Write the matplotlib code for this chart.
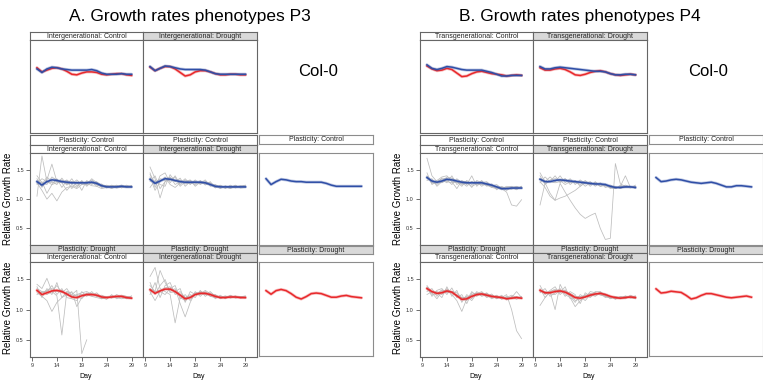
import matplotlib
matplotlib.use('Agg')
import matplotlib.pyplot as plt

plt.rcParams['font.family'] = ['Liberation Sans', 'DejaVu Sans']

# Data: relative growth rate per day (days 10..29)
days = list(range(10, 30))
x_ticks = [9, 14, 19, 24, 29]
y_ticks = [0.5, 1.0, 1.5]

# ---- A. P3 (intergenerational) ----
a_ic_ctrl = [1.30, 1.24, 1.30, 1.33, 1.32, 1.30, 1.29, 1.28, 1.28, 1.28, 1.28, 1.29, 1.27, 1.23, 1.21, 1.21, 1.21, 1.22, 1.21, 1.21]
a_id_ctrl = [1.34, 1.27, 1.31, 1.35, 1.34, 1.32, 1.30, 1.29, 1.29, 1.29, 1.29, 1.28, 1.25, 1.22, 1.21, 1.21, 1.21, 1.21, 1.21, 1.21]
a_ic_drt = [1.32, 1.25, 1.28, 1.31, 1.32, 1.30, 1.26, 1.21, 1.20, 1.23, 1.25, 1.25, 1.24, 1.21, 1.20, 1.21, 1.22, 1.22, 1.20, 1.19]
a_id_drt = [1.33, 1.27, 1.31, 1.34, 1.34, 1.30, 1.24, 1.18, 1.20, 1.25, 1.27, 1.27, 1.25, 1.22, 1.20, 1.20, 1.21, 1.21, 1.20, 1.20]
a_col_ctrl = [1.35, 1.25, 1.30, 1.34, 1.33, 1.31, 1.30, 1.30, 1.29, 1.29, 1.29, 1.29, 1.27, 1.24, 1.22, 1.22, 1.22, 1.22, 1.22, 1.22]
a_col_drt = [1.31, 1.25, 1.31, 1.33, 1.31, 1.26, 1.20, 1.17, 1.21, 1.26, 1.27, 1.26, 1.23, 1.20, 1.20, 1.22, 1.23, 1.21, 1.20, 1.19]

# individual plants (grey)
a_ic_ctrl_ind = [
    [1.05, 1.74, 1.30, 1.25, 1.28, 1.30, 1.27, 1.30, 1.28, 1.27, 1.30, 1.28, 1.25, 1.22, 1.20, 1.22, 1.20, 1.21, 1.22, 1.20],
    [1.28, 1.15, 1.00, 1.10, 0.97, 1.12, 1.20, 1.22, 1.18, 1.25, 1.27, 1.23, 1.22, 1.18, 1.20, 1.22, 1.19, 1.21, 1.20, 1.22],
    [1.35, 1.20, 1.33, 1.60, 1.30, 1.28, 1.15, 1.25, 1.20, 1.30, 1.25, 1.35, 1.28, 1.24, 1.22, 1.18, 1.22, 1.24, 1.21, 1.23],
    [1.25, 1.30, 1.10, 1.25, 1.35, 1.20, 1.32, 1.18, 1.30, 1.15, 1.32, 1.25, 1.30, 1.20, 1.23, 1.20, 1.24, 1.19, 1.23, 1.21],
    [1.32, 1.25, 1.38, 1.30, 1.25, 1.36, 1.25, 1.35, 1.22, 1.32, 1.22, 1.30, 1.22, 1.26, 1.19, 1.24, 1.21, 1.23, 1.20, 1.22],
    [1.40, 1.28, 1.25, 1.38, 1.32, 1.28, 1.33, 1.26, 1.33, 1.25, 1.27, 1.33, 1.25, 1.21, 1.24, 1.21, 1.23, 1.20, 1.24, 1.20],
    [1.27, 1.35, 1.30, 1.28, 1.30, 1.33, 1.24, 1.30, 1.26, 1.30, 1.24, 1.27, 1.29, 1.24, 1.22, 1.23, 1.22, 1.20, 1.22, 1.23],
]
a_id_ctrl_ind = [
    [1.55, 1.35, 1.02, 1.30, 1.38, 1.25, 1.30, 1.28, 1.32, 1.27, 1.30, 1.26, 1.24, 1.20, 1.22, 1.20, 1.22, 1.21, 1.23, 1.21],
    [1.45, 1.20, 1.40, 1.45, 1.28, 1.40, 1.25, 1.33, 1.25, 1.33, 1.25, 1.30, 1.27, 1.23, 1.18, 1.23, 1.19, 1.23, 1.20, 1.22],
    [1.20, 1.32, 1.25, 1.22, 1.42, 1.30, 1.36, 1.22, 1.30, 1.24, 1.32, 1.24, 1.30, 1.19, 1.24, 1.18, 1.24, 1.19, 1.22, 1.24],
    [1.38, 1.15, 1.30, 1.38, 1.25, 1.20, 1.28, 1.35, 1.26, 1.30, 1.27, 1.33, 1.22, 1.25, 1.20, 1.22, 1.20, 1.24, 1.19, 1.20],
    [1.30, 1.40, 1.18, 1.30, 1.33, 1.38, 1.22, 1.30, 1.33, 1.22, 1.29, 1.27, 1.28, 1.22, 1.23, 1.21, 1.18, 1.22, 1.21, 1.23],
    [1.42, 1.28, 1.35, 1.32, 1.36, 1.30, 1.33, 1.26, 1.28, 1.30, 1.26, 1.29, 1.25, 1.21, 1.21, 1.22, 1.21, 1.20, 1.22, 1.20],
]
a_ic_drt_ind = [
    [1.28, 1.22, 1.15, 0.97, 1.12, 1.20, 1.25, 1.30, 1.05, 1.20, 1.25, 1.22, 1.20, 1.18, 1.20, 1.22, 1.20, 1.18, 1.20, 1.18],
    [1.35, 1.30, 1.25, 1.30, 1.23, 0.58, 1.30, 1.25, 1.32, 0.27, 0.50],
    [1.42, 1.35, 1.52, 1.30, 1.40, 1.28, 1.35, 1.22, 1.25, 1.28, 1.30, 1.26, 1.24, 1.18, 1.22, 1.19, 1.25, 1.21, 1.19, 1.20],
    [1.25, 1.30, 1.30, 1.40, 1.25, 1.35, 1.20, 1.18, 1.15, 1.30, 1.22, 1.30, 1.22, 1.24, 1.20, 1.23, 1.21, 1.24, 1.22, 1.21],
    [1.38, 1.20, 1.35, 1.25, 1.45, 1.20, 1.30, 1.28, 1.22, 1.18, 1.28, 1.24, 1.28, 1.20, 1.17, 1.25, 1.18, 1.22, 1.18, 1.23],
    [1.30, 1.28, 1.32, 1.35, 1.30, 1.32, 1.24, 1.22, 1.24, 1.25, 1.26, 1.27, 1.22, 1.22, 1.21, 1.20, 1.22, 1.21, 1.21, 1.20],
]
a_id_drt_ind = [
    [1.55, 1.70, 1.35, 1.30, 1.25, 0.78, 1.20, 1.15, 1.22, 1.25, 1.30, 1.28, 1.22, 1.20, 1.22, 1.20, 1.21, 1.20, 1.22, 1.20],
    [1.40, 1.30, 1.65, 1.45, 1.30, 1.35, 1.10, 0.88, 1.12, 1.28, 1.25, 1.32, 1.26, 1.24, 1.18, 1.22, 1.20, 1.23, 1.19, 1.21],
    [1.25, 1.45, 1.20, 1.40, 1.45, 1.25, 1.30, 1.20, 1.25, 1.20, 1.32, 1.22, 1.28, 1.18, 1.24, 1.18, 1.24, 1.19, 1.21, 1.23],
    [1.30, 1.15, 1.30, 1.25, 1.35, 1.40, 1.18, 1.25, 1.15, 1.30, 1.22, 1.30, 1.22, 1.25, 1.20, 1.23, 1.19, 1.22, 1.20, 1.19],
    [1.45, 1.25, 1.40, 1.50, 1.28, 1.30, 1.35, 1.12, 1.30, 1.25, 1.28, 1.25, 1.30, 1.22, 1.21, 1.21, 1.23, 1.21, 1.22, 1.22],
    [1.35, 1.30, 1.32, 1.36, 1.38, 1.28, 1.26, 1.20, 1.22, 1.27, 1.29, 1.26, 1.25, 1.21, 1.20, 1.21, 1.21, 1.20, 1.21, 1.20],
]

# ---- B. P4 (transgenerational) ----
b_tc_ctrl = [1.37, 1.31, 1.29, 1.31, 1.34, 1.33, 1.31, 1.29, 1.28, 1.28, 1.28, 1.28, 1.26, 1.24, 1.21, 1.18, 1.18, 1.19, 1.19, 1.19]
b_td_ctrl = [1.34, 1.30, 1.30, 1.32, 1.33, 1.32, 1.31, 1.30, 1.29, 1.28, 1.27, 1.26, 1.26, 1.25, 1.22, 1.20, 1.20, 1.21, 1.21, 1.20]
b_tc_drt = [1.35, 1.30, 1.27, 1.28, 1.31, 1.29, 1.23, 1.17, 1.18, 1.22, 1.25, 1.26, 1.24, 1.22, 1.21, 1.20, 1.18, 1.19, 1.20, 1.19]
b_td_drt = [1.32, 1.28, 1.28, 1.30, 1.31, 1.29, 1.25, 1.20, 1.19, 1.21, 1.24, 1.26, 1.27, 1.25, 1.22, 1.20, 1.19, 1.20, 1.21, 1.20]
b_col_ctrl = [1.37, 1.30, 1.31, 1.33, 1.34, 1.33, 1.31, 1.29, 1.28, 1.27, 1.28, 1.29, 1.27, 1.24, 1.21, 1.21, 1.23, 1.23, 1.22, 1.21]
b_col_drt = [1.34, 1.27, 1.28, 1.30, 1.29, 1.28, 1.23, 1.17, 1.19, 1.23, 1.26, 1.26, 1.24, 1.22, 1.20, 1.19, 1.20, 1.21, 1.22, 1.20]

b_tc_ctrl_ind = [
    [1.70, 1.40, 1.30, 1.35, 1.30, 1.28, 1.30, 1.25, 1.28, 1.22, 1.26, 1.25, 1.24, 1.20, 1.18, 1.18, 1.12, 0.90, 0.88, 0.99],
    [1.40, 1.28, 1.32, 1.38, 1.40, 1.30, 1.18, 1.32, 1.25, 1.40, 1.22, 1.30, 1.25, 1.22, 1.20, 1.16, 1.20, 1.22, 1.18, 1.22],
    [1.32, 1.35, 1.22, 1.30, 1.38, 1.36, 1.30, 1.22, 1.32, 1.25, 1.30, 1.22, 1.28, 1.20, 1.22, 1.20, 1.15, 1.20, 1.22, 1.18],
    [1.45, 1.25, 1.30, 1.28, 1.33, 1.25, 1.35, 1.28, 1.22, 1.30, 1.25, 1.32, 1.22, 1.26, 1.16, 1.22, 1.18, 1.17, 1.21, 1.20],
    [1.35, 1.32, 1.25, 1.33, 1.28, 1.40, 1.25, 1.30, 1.30, 1.20, 1.32, 1.28, 1.30, 1.22, 1.25, 1.18, 1.22, 1.20, 1.16, 1.22],
    [1.38, 1.27, 1.28, 1.36, 1.35, 1.31, 1.28, 1.27, 1.26, 1.30, 1.27, 1.26, 1.27, 1.23, 1.20, 1.20, 1.19, 1.18, 1.20, 1.20],
]
b_td_ctrl_ind = [
    [0.90, 1.27, 1.30, 1.28, 1.30, 1.35, 1.28, 1.30, 1.25, 1.32, 1.25, 1.28, 1.22, 1.24, 1.20, 1.18, 1.22, 1.20, 1.22, 1.20],
    [1.35, 1.28, 1.10, 0.98, 1.27, 1.12, 0.98, 0.85, 0.74, 0.67, 0.72, 0.76, 0.50, 0.31, 0.33, 1.61, 1.26, 1.22, 1.20, 1.22],
    [1.30, 1.20, 1.05, 0.98, 1.02, 1.05, 1.10, 1.15, 1.22, 1.28, 1.25, 1.28, 1.22, 1.24, 1.20, 1.18, 1.22, 1.40, 1.20, 1.22],
    [1.45, 1.30, 1.38, 1.30, 1.40, 1.28, 1.35, 1.25, 1.33, 1.26, 1.30, 1.22, 1.28, 1.20, 1.22, 1.18, 1.24, 1.20, 1.22, 1.18],
    [1.28, 1.38, 1.30, 1.40, 1.28, 1.35, 1.25, 1.32, 1.22, 1.30, 1.22, 1.30, 1.22, 1.26, 1.18, 1.22, 1.18, 1.22, 1.19, 1.24],
    [1.40, 1.25, 1.33, 1.35, 1.32, 1.25, 1.30, 1.28, 1.30, 1.22, 1.28, 1.25, 1.26, 1.22, 1.24, 1.20, 1.20, 1.24, 1.21, 1.21],
]
b_tc_drt_ind = [
    [1.40, 1.28, 1.30, 1.25, 1.35, 1.25, 1.15, 0.97, 1.18, 1.25, 1.28, 1.22, 1.25, 1.18, 1.22, 1.20, 1.25, 1.00, 0.65, 0.52],
    [1.30, 1.35, 1.22, 1.32, 1.28, 1.30, 1.28, 1.20, 1.15, 1.30, 1.22, 1.28, 1.20, 1.24, 1.18, 1.22, 1.18, 1.20, 1.30, 1.20],
    [1.25, 1.30, 1.28, 1.20, 1.38, 1.22, 1.32, 1.12, 1.25, 1.18, 1.30, 1.24, 1.28, 1.20, 1.24, 1.17, 1.22, 1.18, 1.22, 1.18],
    [1.38, 1.22, 1.32, 1.35, 1.25, 1.36, 1.20, 1.25, 1.10, 1.28, 1.26, 1.30, 1.22, 1.26, 1.18, 1.24, 1.16, 1.22, 1.17, 1.22],
    [1.33, 1.28, 1.18, 1.30, 1.32, 1.28, 1.25, 1.18, 1.22, 1.15, 1.27, 1.24, 1.27, 1.22, 1.20, 1.19, 1.20, 1.24, 1.20, 1.21],
    [1.36, 1.25, 1.26, 1.33, 1.30, 1.30, 1.22, 1.20, 1.20, 1.24, 1.24, 1.27, 1.23, 1.21, 1.22, 1.20, 1.19, 1.20, 1.21, 1.20],
]
b_td_drt_ind = [
    [1.07, 1.20, 1.30, 1.00, 1.42, 1.25, 1.20, 1.05, 1.15, 1.22, 1.25, 1.22, 1.28, 1.20, 1.22, 1.18, 1.20, 1.22, 1.20, 1.18],
    [1.40, 1.25, 1.32, 1.38, 1.25, 1.33, 1.22, 1.12, 1.25, 1.20, 1.30, 1.28, 1.25, 1.22, 1.20, 1.21, 1.18, 1.23, 1.19, 1.22],
    [1.28, 1.35, 1.22, 1.28, 1.35, 1.22, 1.30, 1.25, 1.10, 1.28, 1.22, 1.30, 1.30, 1.24, 1.18, 1.22, 1.20, 1.18, 1.24, 1.20],
    [1.35, 1.20, 1.30, 1.32, 1.28, 1.38, 1.18, 1.20, 1.22, 1.15, 1.25, 1.24, 1.28, 1.26, 1.22, 1.17, 1.22, 1.20, 1.20, 1.23],
    [1.30, 1.30, 1.26, 1.25, 1.32, 1.28, 1.25, 1.15, 1.18, 1.25, 1.20, 1.28, 1.24, 1.22, 1.19, 1.20, 1.19, 1.21, 1.22, 1.19],
    [1.33, 1.26, 1.30, 1.34, 1.30, 1.31, 1.27, 1.22, 1.21, 1.23, 1.27, 1.25, 1.29, 1.23, 1.21, 1.19, 1.21, 1.20, 1.21, 1.21],
]

BLUE = '#2f4ea6'
RED = '#e8282b'
GREY = '#bdbdbd'
FRAME = '#666666'
LIGHT = '#8c8c8c'
SHADE = '#d9d9d9'

W, H = 763, 382
fig = plt.figure(figsize=(W / 100, H / 100), dpi=100)


def box(x0, y0, x1, y1):
    # pixel coords (top-left origin) -> figure fraction
    return [x0 / W, 1 - y1 / H, (x1 - x0) / W, (y1 - y0) / H]


def strip(x0, y0, x1, y1, label, shaded, edge=FRAME):
    ax = fig.add_axes(box(x0, y0, x1, y1))
    ax.set_facecolor(SHADE if shaded else 'white')
    ax.set_xticks([])
    ax.set_yticks([])
    for s in ax.spines.values():
        s.set_color(edge)
        s.set_linewidth(0.8)
    ax.text(0.5, 0.47, label, transform=ax.transAxes, ha='center', va='center',
            fontsize=5.0, color='#222222')


def panel(x0, y0, x1, y1, means, individuals=(), left=False, bottom=False, edge=FRAME):
    ax = fig.add_axes(box(x0, y0, x1, y1))
    ax.set_xlim(8.6, 31.3)
    ax.set_ylim(0.215, 1.79)
    for line in individuals:
        ax.plot(days[:len(line)], line, color=GREY, lw=0.55)
    for vals, col in means:
        ax.plot(days, vals, color=col, lw=2.2, alpha=0.3, solid_capstyle='round')
        ax.plot(days, vals, color=col, lw=1.1)
    ax.set_xticks(x_ticks if bottom else [])
    ax.set_yticks(y_ticks if left else [])
    ax.tick_params(direction='out', length=3, width=0.6, color='#555555',
                   labelsize=4, labelcolor='#333333', pad=1.5)
    for s in ax.spines.values():
        s.set_color(edge)
        s.set_linewidth(0.8)
    return ax


def group(dx, title, gen, ic_ctrl, id_ctrl, ic_drt, id_drt, col_ctrl, col_drt,
          ic_ctrl_ind, id_ctrl_ind, ic_drt_ind, id_drt_ind):
    fig.text((190 + dx) / W, 1 - 16 / H, title, ha='center', va='center', fontsize=12.5)

    # top row: both plasticity treatments overlaid
    strip(30 + dx, 32, 143 + dx, 40, gen + ': Control', False)
    strip(143 + dx, 32, 257 + dx, 40, gen + ': Drought', True)
    panel(30 + dx, 40, 143 + dx, 133, [(ic_drt, RED), (ic_ctrl, BLUE)])
    panel(143 + dx, 40, 257 + dx, 133, [(id_drt, RED), (id_ctrl, BLUE)])
    fig.text((318 + dx) / W, 1 - 72 / H, 'Col-0', ha='center', va='center', fontsize=12)

    # middle row: plasticity control
    strip(30 + dx, 135, 143 + dx, 145, 'Plasticity: Control', False)
    strip(143 + dx, 135, 257 + dx, 145, 'Plasticity: Control', False)
    strip(30 + dx, 145, 143 + dx, 153, gen + ': Control', False)
    strip(143 + dx, 145, 257 + dx, 153, gen + ': Drought', True)
    panel(30 + dx, 153, 143 + dx, 245, [(ic_ctrl, BLUE)], ic_ctrl_ind, left=True)
    panel(143 + dx, 153, 257 + dx, 245, [(id_ctrl, BLUE)], id_ctrl_ind)
    strip(259 + dx, 135, 373 + dx, 144, 'Plasticity: Control', False, edge=LIGHT)
    panel(259 + dx, 153, 373 + dx, 245, [(col_ctrl, BLUE)], edge=LIGHT)

    # bottom row: plasticity drought
    strip(30 + dx, 245, 143 + dx, 253, 'Plasticity: Drought', True)
    strip(143 + dx, 245, 257 + dx, 253, 'Plasticity: Drought', True)
    strip(30 + dx, 253, 143 + dx, 262, gen + ': Control', False)
    strip(143 + dx, 253, 257 + dx, 262, gen + ': Drought', True)
    panel(30 + dx, 262, 143 + dx, 357, [(ic_drt, RED)], ic_drt_ind, left=True, bottom=True)
    panel(143 + dx, 262, 257 + dx, 357, [(id_drt, RED)], id_drt_ind, bottom=True)
    strip(259 + dx, 246, 373 + dx, 254, 'Plasticity: Drought', True, edge=LIGHT)
    panel(259 + dx, 262, 373 + dx, 356, [(col_drt, RED)], edge=LIGHT)

    for yc in (199, 308):
        fig.text((8 + dx) / W, 1 - yc / H, 'Relative Growth Rate', rotation=90,
                 ha='center', va='center', fontsize=7)
    for xc in (86, 199):
        fig.text((xc + dx) / W, 1 - 376 / H, 'Day', ha='center', va='center', fontsize=5)


group(0, 'A. Growth rates phenotypes P3', 'Intergenerational',
      a_ic_ctrl, a_id_ctrl, a_ic_drt, a_id_drt, a_col_ctrl, a_col_drt,
      a_ic_ctrl_ind, a_id_ctrl_ind, a_ic_drt_ind, a_id_drt_ind)
group(390, 'B. Growth rates phenotypes P4', 'Transgenerational',
      b_tc_ctrl, b_td_ctrl, b_tc_drt, b_td_drt, b_col_ctrl, b_col_drt,
      b_tc_ctrl_ind, b_td_ctrl_ind, b_tc_drt_ind, b_td_drt_ind)

fig.savefig('out.png', dpi=100)
